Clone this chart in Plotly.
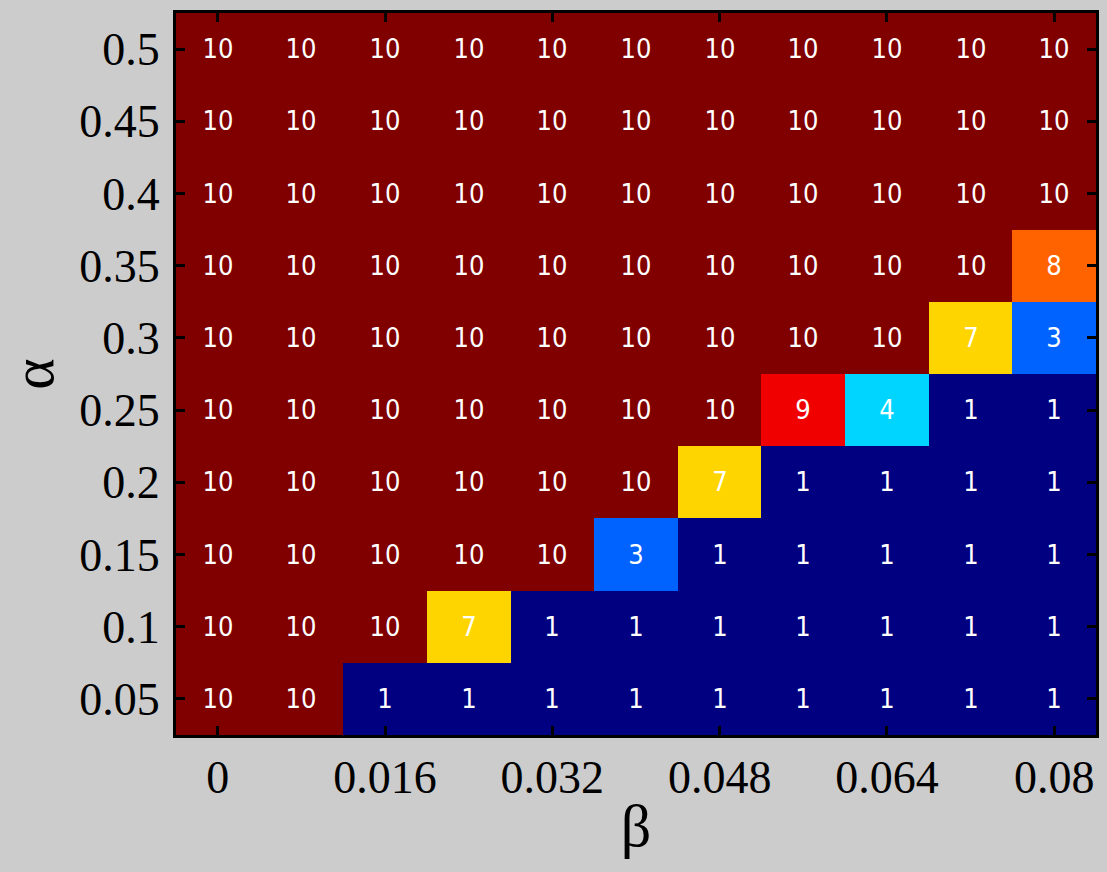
import plotly.graph_objects as go

beta = [0, 0.008, 0.016, 0.024, 0.032, 0.04, 0.048, 0.056, 0.064, 0.072, 0.08]
alpha = [0.05, 0.1, 0.15, 0.2, 0.25, 0.3, 0.35, 0.4, 0.45, 0.5]
x_tick_vals = [0, 0.016, 0.032, 0.048, 0.064, 0.08]
x_tick_text = ["0", "0.016", "0.032", "0.048", "0.064", "0.08"]
y_tick_text = ["0.05", "0.1", "0.15", "0.2", "0.25", "0.3", "0.35", "0.4", "0.45", "0.5"]

# rows correspond to alpha (bottom to top), columns to beta
counts = [
    [10, 10, 1, 1, 1, 1, 1, 1, 1, 1, 1],
    [10, 10, 10, 7, 1, 1, 1, 1, 1, 1, 1],
    [10, 10, 10, 10, 10, 3, 1, 1, 1, 1, 1],
    [10, 10, 10, 10, 10, 10, 7, 1, 1, 1, 1],
    [10, 10, 10, 10, 10, 10, 10, 9, 4, 1, 1],
    [10, 10, 10, 10, 10, 10, 10, 10, 10, 7, 3],
    [10, 10, 10, 10, 10, 10, 10, 10, 10, 10, 8],
    [10, 10, 10, 10, 10, 10, 10, 10, 10, 10, 10],
    [10, 10, 10, 10, 10, 10, 10, 10, 10, 10, 10],
    [10, 10, 10, 10, 10, 10, 10, 10, 10, 10, 10],
]

jet = [
    [0.0, "rgb(0,0,128)"],
    [0.125, "rgb(0,0,255)"],
    [0.375, "rgb(0,255,255)"],
    [0.625, "rgb(255,255,0)"],
    [0.875, "rgb(255,0,0)"],
    [1.0, "rgb(128,0,0)"],
]

fig = go.Figure(
    go.Heatmap(
        x=beta,
        y=alpha,
        z=counts,
        zmin=1,
        zmax=10,
        colorscale=jet,
        showscale=False,
        texttemplate="%{z}",
        textfont=dict(color="white", size=27, family="Liberation Sans Narrow, DejaVu Sans Condensed, Liberation Sans"),
        hoverinfo="x+y+z",
    )
)

serif = "Liberation Serif, Times New Roman, serif"
fig.update_layout(
    width=1107,
    height=872,
    margin=dict(l=176, r=8, t=13, b=137),
    paper_bgcolor="#cccccc",
    plot_bgcolor="#cccccc",
    font=dict(family=serif, color="black"),
    xaxis=dict(
        range=[-0.004, 0.084],
        tickvals=x_tick_vals,
        ticktext=x_tick_text,
        ticks="inside",
        ticklen=9,
        tickwidth=3,
        tickcolor="black",
        tickfont=dict(size=46, family=serif),
        ticklabelstandoff=0,
        showline=True,
        linecolor="black",
        linewidth=3,
        mirror="ticks",
        showgrid=False,
        zeroline=False,
        title=dict(text="β", font=dict(size=60, family=serif), standoff=2),
    ),
    yaxis=dict(
        range=[0.025, 0.525],
        tickvals=alpha,
        ticktext=y_tick_text,
        ticks="inside",
        ticklen=9,
        tickwidth=3,
        tickcolor="black",
        tickfont=dict(size=46, family=serif),
        ticklabelstandoff=4,
        showline=True,
        linecolor="black",
        linewidth=3,
        mirror="ticks",
        showgrid=False,
        zeroline=False,
        title=dict(text="α", font=dict(size=60, family=serif), standoff=8),
    ),
)

fig.write_html("out.html")
